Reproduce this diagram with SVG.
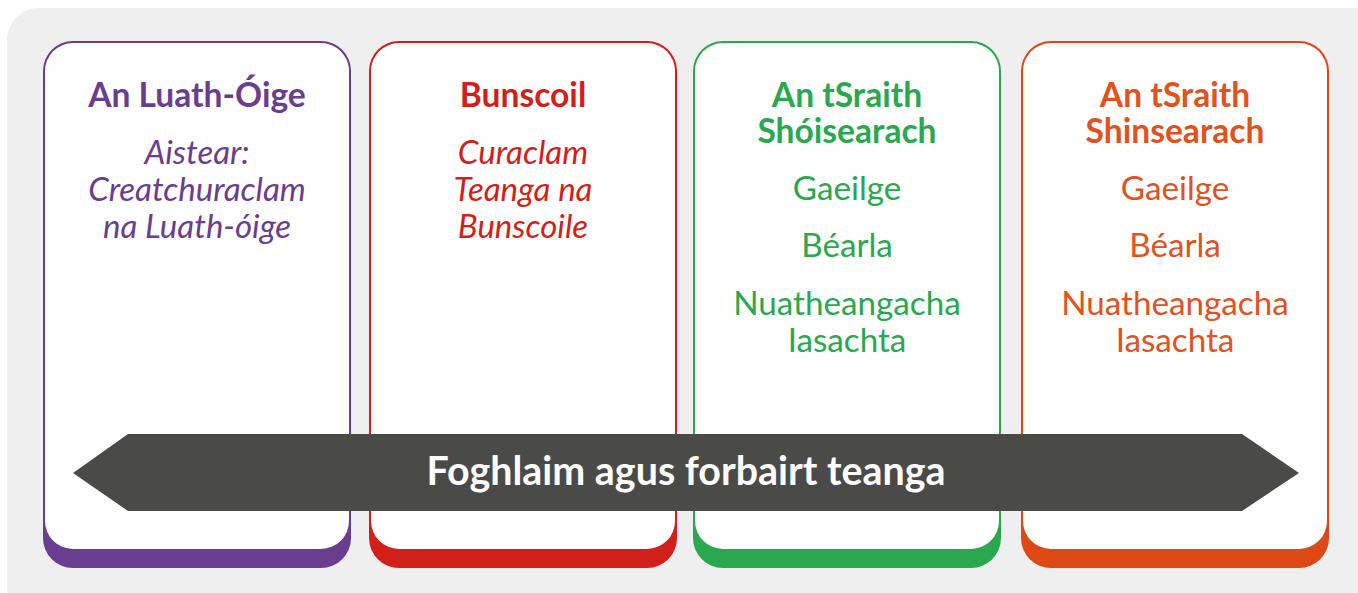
<svg xmlns="http://www.w3.org/2000/svg" width="1358" height="593" viewBox="0 0 1358 593">
<style>
.t{font-family:Lato,"Liberation Sans",sans-serif;font-weight:700;font-size:33.6px;text-anchor:middle}
.i{font-family:Lato,"Liberation Sans",sans-serif;font-style:italic;font-size:33px;text-anchor:middle}
.r{font-family:Lato,"Liberation Sans",sans-serif;font-size:33.2px;text-anchor:middle}
.a{font-family:Lato,"Liberation Sans",sans-serif;font-weight:700;font-size:39.4px;text-anchor:middle;fill:#ffffff}
.w{fill:#ffffff}
</style>
<rect x="7" y="8" width="1380" height="620" rx="32" fill="#efefef"/>
<g id="card1">
<rect x="43" y="41" width="308" height="527" rx="30" fill="#6a3d8f"/>
<rect x="45" y="43" width="304" height="506" rx="28" class="w"/>
<g fill="#6a3d8f">
<text class="t" x="197" y="107">An Luath-Óige</text>
<text class="i" x="197" y="164">Aistear:</text>
<text class="i" x="197" y="201">Creatchuraclam</text>
<text class="i" x="197" y="238">na Luath-óige</text>
</g>
</g>
<g id="card2">
<rect x="369" y="41" width="308" height="527" rx="30" fill="#d21f1a"/>
<rect x="371" y="43" width="304" height="506" rx="28" class="w"/>
<g fill="#d21f1a">
<text class="t" x="523" y="107">Bunscoil</text>
<text class="i" x="523" y="164">Curaclam</text>
<text class="i" x="523" y="201">Teanga na</text>
<text class="i" x="523" y="238">Bunscoile</text>
</g>
</g>
<g id="card3">
<rect x="693" y="41" width="308" height="527" rx="30" fill="#29a84f"/>
<rect x="695" y="43" width="304" height="506" rx="28" class="w"/>
<g fill="#29a84f">
<text class="t" x="847" y="107">An tSraith</text>
<text class="t" x="847" y="143">Shóisearach</text>
<text class="r" x="847" y="200">Gaeilge</text>
<text class="r" x="847" y="257">Béarla</text>
<text class="r" x="847" y="315">Nuatheangacha</text>
<text class="r" x="847" y="352">Iasachta</text>
</g>
</g>
<g id="card4">
<rect x="1021" y="41" width="308" height="527" rx="30" fill="#dc4816"/>
<rect x="1023" y="43" width="304" height="506" rx="28" class="w"/>
<g fill="#e0531f">
<text class="t" x="1175" y="107">An tSraith</text>
<text class="t" x="1175" y="143">Shinsearach</text>
<text class="r" x="1175" y="200">Gaeilge</text>
<text class="r" x="1175" y="257">Béarla</text>
<text class="r" x="1175" y="315">Nuatheangacha</text>
<text class="r" x="1175" y="352">Iasachta</text>
</g>
</g>
<g id="connectors">
<polygon points="73,473 128,434 1242,434 1299,473 1242,511 128,511" fill="#4a4a48"/>
<text class="a" x="686" y="485">Foghlaim agus forbairt teanga</text>
</g>
</svg>
